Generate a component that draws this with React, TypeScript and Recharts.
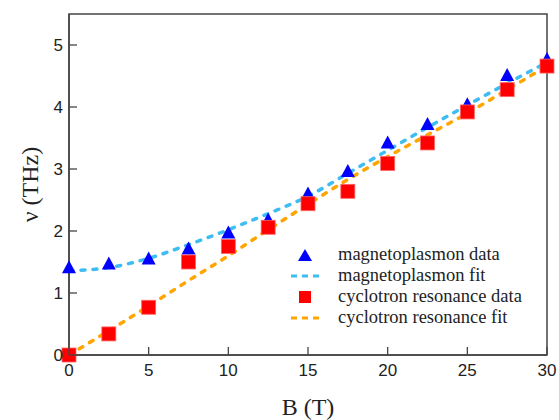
import {
  ComposedChart,
  Scatter,
  Line,
  XAxis,
  YAxis,
  ReferenceArea,
  Legend,
} from "recharts";

// ─── Data ─────────────────────────────────────────────────────────────────────

const bField = [0, 2.5, 5, 7.5, 10, 12.5, 15, 17.5, 20, 22.5, 25, 27.5, 30];
const mpData = [1.4, 1.46, 1.54, 1.7, 1.96, 2.17, 2.59, 2.95, 3.41, 3.71, 4.03, 4.5, 4.76];
const crData = [0, 0.34, 0.77, 1.5, 1.75, 2.06, 2.44, 2.64, 3.09, 3.42, 3.92, 4.28, 4.66];
const mpFit = [1.36, 1.41, 1.56, 1.78, 2.02, 2.28, 2.56, 2.93, 3.3, 3.67, 4.03, 4.38, 4.72];
const crFit = [0, 0.39, 0.79, 1.2, 1.6, 2.02, 2.43, 2.83, 3.2, 3.55, 3.9, 4.28, 4.66];

const xTicks = [0, 5, 10, 15, 20, 25, 30];
const yTicks = [0, 1, 2, 3, 4, 5];

const legendItems = [
  { label: "magnetoplasmon data", kind: "triangle" },
  { label: "magnetoplasmon fit", kind: "mpLine" },
  { label: "cyclotron resonance data", kind: "square" },
  { label: "cyclotron resonance fit", kind: "crLine" },
];

const BLUE = "#0000FF";
const RED = "#FF0000";
const SKY = "#3DBDF2";
const ORANGE = "#FFA500";
const AXIS = "#444444";
const SANS = "'Liberation Sans', Arial, sans-serif";
const SERIF = "'Liberation Serif', 'Times New Roman', serif";

const mpPoints = bField.map((b, i) => ({ b, v: mpData[i] }));
const crPoints = bField.map((b, i) => ({ b, v: crData[i] }));
const mpFitPoints = bField.map((b, i) => ({ b, v: mpFit[i] }));
const crFitPoints = bField.map((b, i) => ({ b, v: crFit[i] }));

// ─── Shapes ───────────────────────────────────────────────────────────────────

function Triangle({ cx, cy }: { cx?: number; cy?: number }) {
  if (cx == null || cy == null) return null;
  return (
    <polygon
      points={`${cx},${cy - 8} ${cx - 7},${cy + 5} ${cx + 7},${cy + 5}`}
      fill={BLUE}
    />
  );
}

function Square({ cx, cy }: { cx?: number; cy?: number }) {
  if (cx == null || cy == null) return null;
  return (
    <rect x={cx - 7} y={cy - 7} width={14} height={14} fill={RED} stroke="#FF6666" strokeWidth={0.8} />
  );
}

// ─── Inward ticks ─────────────────────────────────────────────────────────────

const X_MARGIN = 8;
const Y_MARGIN = 6;

function XTick({ x, y, payload }: any) {
  const axisY = y - X_MARGIN;
  return (
    <g>
      <line x1={x} y1={axisY} x2={x} y2={axisY - 8} stroke={AXIS} strokeWidth={1.3} />
      <text x={x} y={y} dy="0.75em" textAnchor="middle" fill="#222" fontSize={17} fontFamily={SANS}>
        {payload.value}
      </text>
    </g>
  );
}

function YTick({ x, y, payload }: any) {
  const axisX = x + Y_MARGIN;
  return (
    <g>
      <line x1={axisX} y1={y} x2={axisX + 8} y2={y} stroke={AXIS} strokeWidth={1.3} />
      <text x={x} y={y} dy="0.36em" textAnchor="end" fill="#222" fontSize={17} fontFamily={SANS}>
        {payload.value}
      </text>
    </g>
  );
}

// ─── Legend ───────────────────────────────────────────────────────────────────

function LegendMark({ kind }: { kind: string }) {
  return (
    <svg width={34} height={16} style={{ display: "block" }}>
      {kind === "triangle" && <polygon points="17,2 10,14 24,14" fill={BLUE} />}
      {kind === "square" && <rect x={11} y={2} width={12} height={12} fill={RED} />}
      {(kind === "mpLine" || kind === "crLine") && (
        <line
          x1={3}
          y1={8}
          x2={32}
          y2={8}
          stroke={kind === "mpLine" ? SKY : ORANGE}
          strokeWidth={3}
          strokeDasharray="6 5"
        />
      )}
    </svg>
  );
}

function LegendBox() {
  return (
    <div style={{ fontFamily: SERIF, fontSize: 18.5, color: "#222", lineHeight: "21px" }}>
      {legendItems.map((it) => (
        <div key={it.label} style={{ display: "flex", alignItems: "center", height: 21 }}>
          <LegendMark kind={it.kind} />
          <span style={{ marginLeft: 16, whiteSpace: "nowrap" }}>{it.label}</span>
        </div>
      ))}
    </div>
  );
}

// ─── Component ────────────────────────────────────────────────────────────────

export default function App() {
  return (
    <div style={{ position: "absolute", left: 0, top: 0, background: "#fff" }}>
      <ComposedChart
        width={559}
        height={420}
        margin={{ top: 14, right: 12, bottom: 0, left: 0 }}
      >
        <XAxis
          dataKey="b"
          type="number"
          domain={[0, 30]}
          ticks={xTicks}
          height={65}
          axisLine={{ stroke: AXIS, strokeWidth: 1.5 }}
          tickLine={false}
          tickSize={0}
          tickMargin={X_MARGIN}
          tick={<XTick />}
          label={{
            value: "B (T)",
            position: "insideBottom",
            offset: 5,
            fill: "#222",
            fontSize: 24,
            fontFamily: SERIF,
          }}
        />
        <YAxis
          dataKey="v"
          type="number"
          domain={[0, 5.5]}
          ticks={yTicks}
          width={69}
          axisLine={{ stroke: AXIS, strokeWidth: 1.5 }}
          tickLine={false}
          tickSize={0}
          tickMargin={Y_MARGIN}
          tick={<YTick />}
          label={{
            value: "ν (THz)",
            angle: -90,
            position: "insideLeft",
            offset: 29,
            fill: "#222",
            fontSize: 24,
            fontFamily: SERIF,
            style: { textAnchor: "middle" },
          }}
        />
        <ReferenceArea
          x1={0}
          x2={30}
          y1={0}
          y2={5.5}
          fill="none"
          stroke={AXIS}
          strokeWidth={1.5}
          ifOverflow="visible"
        />
        <Scatter data={mpPoints} dataKey="v" shape={<Triangle />} isAnimationActive={false} />
        <Scatter data={crPoints} dataKey="v" shape={<Square />} isAnimationActive={false} />
        <Line
          data={mpFitPoints}
          dataKey="v"
          type="monotone"
          stroke={SKY}
          strokeWidth={3.5}
          strokeDasharray="4 8"
          strokeLinecap="round"
          dot={false}
          activeDot={false}
          isAnimationActive={false}
        />
        <Line
          data={crFitPoints}
          dataKey="v"
          type="monotone"
          stroke={ORANGE}
          strokeWidth={3.5}
          strokeDasharray="4 8"
          strokeLinecap="round"
          dot={false}
          activeDot={false}
          isAnimationActive={false}
        />
        <Legend
          layout="horizontal"
          verticalAlign="middle"
          align="center"
          content={<LegendBox />}
          wrapperStyle={{ left: 288, top: 244, width: "auto" }}
        />
      </ComposedChart>
    </div>
  );
}
